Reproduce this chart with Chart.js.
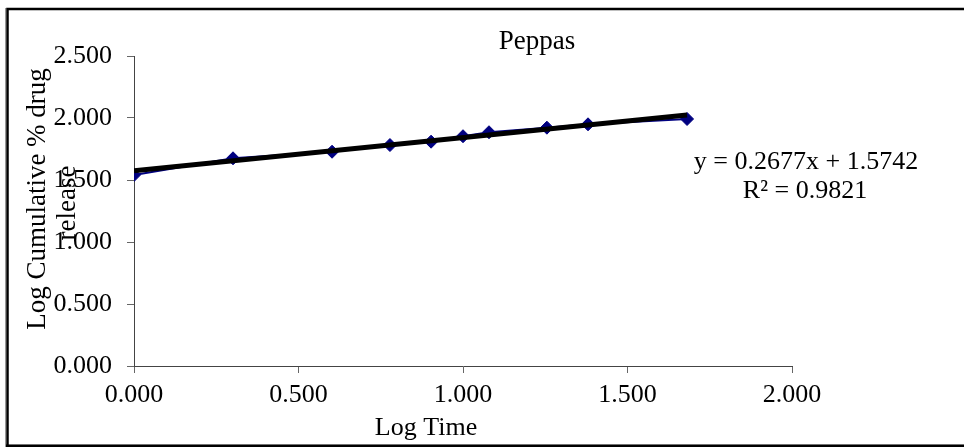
<!DOCTYPE html>
<html>
<head>
<meta charset="utf-8">
<script src="https://cdn.jsdelivr.net/npm/chart.js@4/dist/chart.umd.min.js"></script>
<style>
  html, body { margin: 0; padding: 0; background: #fff; }
  #wrap { width: 964px; height: 447px; position: relative; }
</style>
</head>
<body>
<div id="wrap"><canvas id="c" width="964" height="447"></canvas></div>
<script>
// Data
const logTime = [0.000, 0.301, 0.602, 0.778, 0.903, 1.000, 1.079, 1.255, 1.380, 1.681];
const logRelease = [1.540, 1.675, 1.728, 1.782, 1.809, 1.853, 1.885, 1.922, 1.949, 1.992];
const trendSlope = 0.2677;
const trendIntercept = 1.5742;
const trendX = [0.000, 1.681];
const xTicks = [0, 0.5, 1.0, 1.5, 2.0];
const yTicks = [0, 0.5, 1.0, 1.5, 2.0, 2.5];
const chartTitle = 'Peppas';
const xTitle = 'Log Time';
const yTitle = ['Log Cumulative % drug', 'release'];
const equationLines = ['y = 0.2677x + 1.5742', 'R\u00B2 = 0.9821'];

const FONT = '"Liberation Serif", "Times New Roman", serif';

const points = logTime.map((x, i) => ({ x: x, y: logRelease[i] }));
const trend = trendX.map(x => ({ x: x, y: trendSlope * x + trendIntercept }));

const decor = {
  id: 'decor',
  beforeDraw(chart) {
    const ctx = chart.ctx;
    ctx.save();
    ctx.fillStyle = '#fff';
    ctx.fillRect(0, 0, chart.width, chart.height);
    // frame
    ctx.strokeStyle = '#999';
    ctx.lineWidth = 1;
    ctx.beginPath();
    ctx.moveTo(5.5, 447); ctx.lineTo(5.5, 8);
    ctx.moveTo(6, 444.5); ctx.lineTo(964, 444.5);
    ctx.stroke();
    ctx.strokeStyle = '#000';
    ctx.lineWidth = 2.5;
    ctx.beginPath();
    ctx.moveTo(7.5, 447); ctx.lineTo(7.5, 9);
    ctx.lineTo(964, 9);
    ctx.moveTo(6, 446); ctx.lineTo(964, 446);
    ctx.stroke();
    ctx.restore();
  },
  afterDraw(chart) {
    const ctx = chart.ctx;
    ctx.save();
    ctx.fillStyle = '#000';
    ctx.textAlign = 'center';
    ctx.textBaseline = 'middle';
    ctx.font = '27px ' + FONT;
    ctx.fillText(chartTitle, 537, 42);
    ctx.font = '26px ' + FONT;
    ctx.fillText(xTitle, 426, 428);
    ctx.fillText(equationLines[0], 806, 162);
    ctx.fillText(equationLines[1], 805, 191);
    ctx.font = '27px ' + FONT;
    ctx.save();
    ctx.translate(38, 199);
    ctx.rotate(-Math.PI / 2);
    ctx.fillText(yTitle[0], 0, 0);
    ctx.restore();
    ctx.save();
    ctx.translate(68, 203);
    ctx.rotate(-Math.PI / 2);
    ctx.fillText(yTitle[1], 0, 0);
    ctx.restore();
    ctx.restore();
  }
};

new Chart(document.getElementById('c'), {
  type: 'scatter',
  data: {
    datasets: [
      {
        label: 'Linear trend',
        data: trend,
        showLine: true,
        borderColor: '#000',
        borderWidth: 5,
        pointRadius: 0,
        fill: false,
        order: 0
      },
      {
        label: 'Peppas',
        data: points,
        showLine: true,
        borderColor: '#000080',
        borderWidth: 2,
        backgroundColor: '#000080',
        pointBackgroundColor: '#000080',
        pointBorderColor: '#000080',
        pointStyle: 'rectRot',
        pointRadius: 6.5,
        pointBorderWidth: 1,
        fill: false,
        order: 1
      }
    ]
  },
  options: {
    responsive: false,
    animation: false,
    layout: { padding: { left: 0, right: 172, top: 56, bottom: 0 } },
    plugins: {
      legend: { display: false },
      title: { display: false },
      tooltip: { enabled: false }
    },
    scales: {
      x: {
        type: 'linear',
        min: 0, max: 2,
        afterBuildTicks(scale) { scale.ticks = xTicks.map(v => ({ value: v })); },
        afterFit(scale) { scale.height = 81; },
        border: { display: true, color: '#444', width: 1 },
        grid: { drawOnChartArea: false, drawTicks: true, tickLength: 7, color: '#666' },
        ticks: {
          color: '#000',
          padding: 7,
          font: { family: FONT, size: 26 },
          callback: v => Number(v).toFixed(3)
        },
        title: { display: false }
      },
      y: {
        type: 'linear',
        min: 0, max: 2.5,
        afterBuildTicks(scale) { scale.ticks = yTicks.map(v => ({ value: v })); },
        afterFit(scale) { scale.width = 134; },
        border: { display: true, color: '#444', width: 1 },
        grid: { drawOnChartArea: false, drawTicks: true, tickLength: 7, color: '#666' },
        ticks: {
          color: '#000',
          padding: 15,
          font: { family: FONT, size: 26 },
          callback: v => Number(v).toFixed(3)
        },
        title: { display: false }
      }
    }
  },
  plugins: [decor]
});
</script>
</body>
</html>
